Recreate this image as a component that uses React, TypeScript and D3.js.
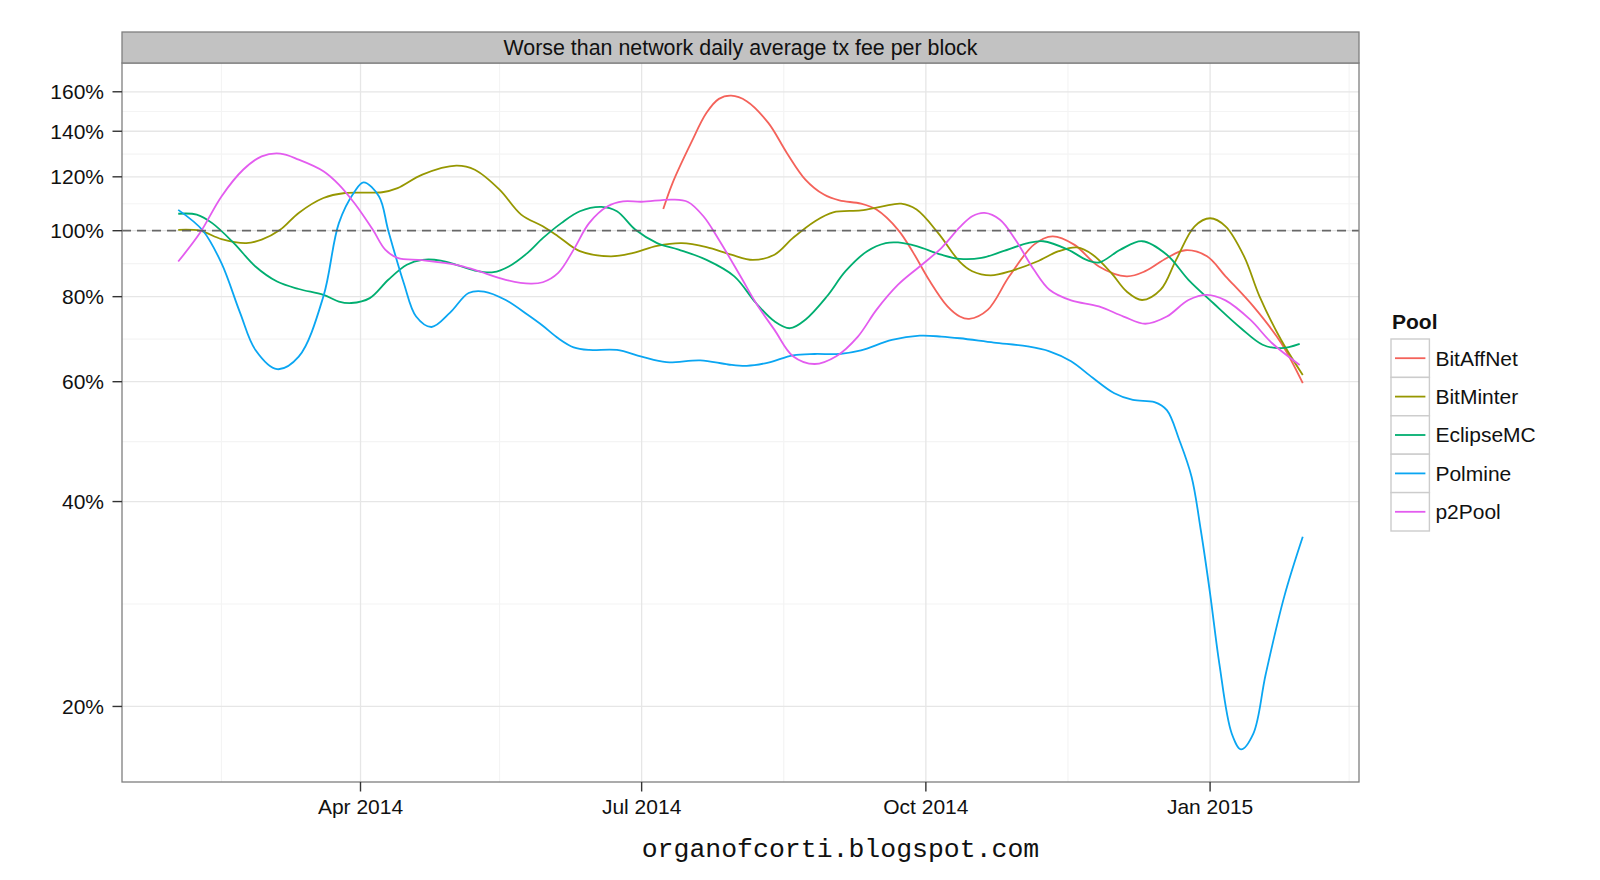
import React, { useEffect, useRef } from "react";
import * as d3 from "d3";

type Pt = [string, number];

// pools and colours (ggplot hue palette, as rendered)
const pools = ["BitAffNet", "BitMinter", "EclipseMC", "Polmine", "p2Pool"];
const poolColors = ["#F4625A", "#969700", "#00AE70", "#0AA6F2", "#E35CEF"];

// values, % of network daily average
const bitAffNet: Pt[] = [
  ["2014-07-08", 107.6], ["2014-07-11", 117.5], ["2014-07-17", 134.6], ["2014-07-22", 149.0],
  ["2014-07-26", 156.2], ["2014-07-30", 157.9], ["2014-08-04", 155.0], ["2014-08-11", 144.0],
  ["2014-08-17", 130.1], ["2014-08-23", 118.9], ["2014-08-29", 113.0], ["2014-09-03", 110.8],
  ["2014-09-10", 109.6], ["2014-09-15", 107.4], ["2014-09-22", 100.3], ["2014-09-27", 92.7],
  ["2014-10-02", 84.7], ["2014-10-08", 77.4], ["2014-10-12", 74.8], ["2014-10-15", 74.2],
  ["2014-10-21", 76.5], ["2014-10-28", 85.7], ["2014-11-05", 95.4], ["2014-11-11", 98.1],
  ["2014-11-18", 95.4], ["2014-11-26", 88.6], ["2014-12-05", 85.7], ["2014-12-11", 87.2],
  ["2014-12-18", 91.2], ["2014-12-24", 93.6], ["2014-12-31", 91.7], ["2015-01-06", 85.7],
  ["2015-01-15", 77.4], ["2015-01-24", 68.4], ["2015-01-31", 59.7],
];

const bitMinter: Pt[] = [
  ["2014-02-01", 100.3], ["2014-02-08", 100.0], ["2014-02-15", 97.2], ["2014-02-23", 95.9],
  ["2014-02-28", 97.0], ["2014-03-06", 100.3], ["2014-03-12", 106.2], ["2014-03-20", 111.7],
  ["2014-03-27", 113.6], ["2014-04-08", 113.9], ["2014-04-13", 115.5], ["2014-04-21", 120.9],
  ["2014-05-02", 124.6], ["2014-05-08", 122.9], ["2014-05-16", 114.9], ["2014-05-23", 105.6],
  ["2014-05-30", 101.5], ["2014-06-04", 98.1], ["2014-06-11", 93.3], ["2014-06-21", 91.7],
  ["2014-06-28", 92.7], ["2014-07-06", 95.0], ["2014-07-14", 95.9], ["2014-07-22", 94.6],
  ["2014-07-30", 92.2], ["2014-08-06", 90.6], ["2014-08-13", 92.2], ["2014-08-19", 97.6],
  ["2014-08-26", 103.2], ["2014-09-01", 106.4], ["2014-09-10", 107.1], ["2014-09-17", 108.6],
  ["2014-09-23", 109.6], ["2014-09-28", 107.4], ["2014-10-05", 99.2], ["2014-10-12", 90.0],
  ["2014-10-16", 87.2], ["2014-10-22", 86.0], ["2014-10-29", 87.4], ["2014-11-06", 90.1],
  ["2014-11-13", 93.3], ["2014-11-19", 94.5], ["2014-11-24", 92.2], ["2014-11-30", 86.7],
  ["2014-12-05", 81.4], ["2014-12-10", 79.1], ["2014-12-16", 81.9], ["2014-12-21", 90.6],
  ["2014-12-27", 101.5], ["2015-01-01", 104.3], ["2015-01-06", 101.5], ["2015-01-12", 91.7],
  ["2015-01-17", 80.1], ["2015-01-24", 69.1], ["2015-01-31", 61.4],
];

const eclipseMC: Pt[] = [
  ["2014-02-01", 105.9], ["2014-02-07", 105.6], ["2014-02-12", 102.6], ["2014-02-19", 95.9],
  ["2014-02-26", 88.6], ["2014-03-05", 84.2], ["2014-03-12", 82.1], ["2014-03-20", 80.5],
  ["2014-03-25", 78.7], ["2014-03-29", 78.3], ["2014-04-04", 79.6], ["2014-04-10", 84.7],
  ["2014-04-16", 89.1], ["2014-04-21", 90.6], ["2014-04-27", 90.4], ["2014-05-02", 89.1],
  ["2014-05-08", 87.4], ["2014-05-14", 86.9], ["2014-05-19", 88.6], ["2014-05-25", 92.7],
  ["2014-05-30", 97.5], ["2014-06-05", 102.6], ["2014-06-11", 106.8], ["2014-06-18", 108.4],
  ["2014-06-23", 106.8], ["2014-06-29", 100.3], ["2014-07-06", 95.9], ["2014-07-13", 93.8],
  ["2014-07-22", 90.6], ["2014-07-31", 85.7], ["2014-08-07", 78.3], ["2014-08-13", 73.6],
  ["2014-08-18", 71.9], ["2014-08-23", 74.0], ["2014-08-30", 80.1], ["2014-09-05", 87.2],
  ["2014-09-12", 93.3], ["2014-09-18", 95.9], ["2014-09-22", 96.1], ["2014-09-28", 94.9],
  ["2014-10-06", 92.2], ["2014-10-12", 90.9], ["2014-10-19", 91.2], ["2014-10-26", 93.3],
  ["2014-11-03", 95.9], ["2014-11-08", 96.5], ["2014-11-16", 93.8], ["2014-11-22", 90.6],
  ["2014-11-26", 89.8], ["2014-12-03", 93.8], ["2014-12-10", 96.5], ["2014-12-18", 92.2],
  ["2014-12-25", 84.7], ["2015-01-02", 78.3], ["2015-01-11", 71.9], ["2015-01-18", 68.0],
  ["2015-01-24", 67.2], ["2015-01-30", 68.2],
];

const polmine: Pt[] = [
  ["2014-02-01", 107.3], ["2014-02-09", 100.0], ["2014-02-15", 89.6], ["2014-02-21", 75.8],
  ["2014-02-26", 66.8], ["2014-03-05", 62.6], ["2014-03-12", 65.3], ["2014-03-20", 80.1],
  ["2014-03-25", 102.6], ["2014-03-30", 114.0], ["2014-04-02", 117.8], ["2014-04-07", 112.3],
  ["2014-04-10", 100.0], ["2014-04-15", 83.8], ["2014-04-19", 74.8], ["2014-04-24", 72.2],
  ["2014-04-30", 75.8], ["2014-05-06", 81.0], ["2014-05-11", 81.4], ["2014-05-18", 79.1],
  ["2014-05-25", 75.3], ["2014-05-30", 72.5], ["2014-06-04", 69.5], ["2014-06-09", 67.4],
  ["2014-06-14", 66.8], ["2014-06-23", 66.8], ["2014-07-01", 65.3], ["2014-07-09", 64.1],
  ["2014-07-20", 64.5], ["2014-07-29", 63.6], ["2014-08-04", 63.3], ["2014-08-11", 64.0],
  ["2014-08-19", 65.6], ["2014-08-26", 65.9], ["2014-09-03", 65.9], ["2014-09-10", 66.7],
  ["2014-09-20", 69.1], ["2014-09-29", 70.1], ["2014-10-06", 69.9], ["2014-10-12", 69.5],
  ["2014-10-23", 68.5], ["2014-11-03", 67.6], ["2014-11-10", 66.5], ["2014-11-17", 64.3],
  ["2014-11-24", 60.8], ["2014-12-01", 57.7], ["2014-12-07", 56.4], ["2014-12-14", 56.0],
  ["2014-12-18", 54.5], ["2014-12-22", 49.3], ["2014-12-26", 43.5], ["2014-12-29", 36.3],
  ["2015-01-01", 29.3], ["2015-01-04", 23.1], ["2015-01-08", 18.25], ["2015-01-11", 17.3],
  ["2015-01-15", 18.25], ["2015-01-19", 22.3], ["2015-01-25", 29.0], ["2015-01-31", 35.5],
];

const p2Pool: Pt[] = [
  ["2014-02-01", 90.1], ["2014-02-08", 99.2], ["2014-02-15", 112.3], ["2014-02-22", 122.9],
  ["2014-02-28", 128.6], ["2014-03-06", 129.8], ["2014-03-12", 127.2], ["2014-03-20", 122.3],
  ["2014-03-25", 116.9], ["2014-03-30", 109.8], ["2014-04-05", 100.3], ["2014-04-09", 93.8],
  ["2014-04-13", 91.2], ["2014-04-21", 90.5], ["2014-05-02", 89.1], ["2014-05-08", 87.6],
  ["2014-05-18", 84.7], ["2014-05-26", 83.6], ["2014-05-30", 84.0], ["2014-06-04", 86.7],
  ["2014-06-09", 93.8], ["2014-06-14", 102.6], ["2014-06-20", 108.6], ["2014-06-25", 110.4],
  ["2014-07-01", 110.3], ["2014-07-11", 111.1], ["2014-07-16", 110.2], ["2014-07-21", 105.0],
  ["2014-07-26", 97.0], ["2014-08-02", 85.7], ["2014-08-07", 78.3], ["2014-08-13", 71.5],
  ["2014-08-19", 65.4], ["2014-08-26", 63.7], ["2014-09-02", 65.4], ["2014-09-09", 69.9],
  ["2014-09-15", 76.5], ["2014-09-22", 83.3], ["2014-09-29", 88.6], ["2014-10-06", 94.3],
  ["2014-10-12", 101.2], ["2014-10-16", 105.0], ["2014-10-20", 106.2], ["2014-10-25", 103.8],
  ["2014-10-30", 97.0], ["2014-11-05", 87.6], ["2014-11-10", 81.9], ["2014-11-17", 79.0],
  ["2014-11-26", 77.4], ["2014-12-04", 74.8], ["2014-12-11", 73.0], ["2014-12-18", 74.8],
  ["2014-12-25", 79.1], ["2014-12-31", 80.5], ["2015-01-06", 79.0], ["2015-01-14", 74.0],
  ["2015-01-21", 68.4], ["2015-01-30", 63.5],
];

const seriesData = [bitAffNet, bitMinter, eclipseMC, polmine, p2Pool];

// axes
const yTicks = [20, 40, 60, 80, 100, 120, 140, 160];
const xTickDates = ["2014-04-01", "2014-07-01", "2014-10-01", "2015-01-01"];
const xTickLabels = ["Apr 2014", "Jul 2014", "Oct 2014", "Jan 2015"];
const xMinorDates = ["2014-02-15", "2014-05-16", "2014-08-16", "2014-11-16", "2015-02-15"];
const referenceLevel = 100;

const stripTitle = "Worse than network daily average tx fee per block";
const legendTitle = "Pool";
const footer = "organofcorti.blogspot.com";

const W = 1600;
const H = 880;
const panel = { left: 122, right: 1359, top: 63, bottom: 782 };
const stripTop = 32;
const font = "'Liberation Sans', Arial, Helvetica, sans-serif";

export default function App() {
  const svgRef = useRef<SVGSVGElement>(null);

  useEffect(() => {
    const svg = d3.select(svgRef.current);
    svg.selectAll("*").remove();

    const all = seriesData.flat();
    const dates = all.map((d) => new Date(d[0]).getTime());
    const vals = all.map((d) => Math.log10(d[1]));

    // ggplot style 5% expansion (log space for y)
    const [t0, t1] = d3.extent(dates) as [number, number];
    const [l0, l1] = d3.extent(vals) as [number, number];
    const tPad = (t1 - t0) * 0.05;
    const lPad = (l1 - l0) * 0.05;

    const x = d3
      .scaleUtc()
      .domain([new Date(t0 - tPad), new Date(t1 + tPad)])
      .range([panel.left, panel.right]);
    const y = d3
      .scaleLog()
      .domain([Math.pow(10, l0 - lPad), Math.pow(10, l1 + lPad)])
      .range([panel.bottom, panel.top]);

    svg.append("rect").attr("width", W).attr("height", H).attr("fill", "#fff");

    // minor grid
    const yMinor = yTicks.slice(1).map((v, i) => Math.sqrt(v * yTicks[i]));
    const g = svg.append("g");
    g.selectAll(".ymin")
      .data(yMinor)
      .enter()
      .append("line")
      .attr("x1", panel.left)
      .attr("x2", panel.right)
      .attr("y1", (d) => y(d))
      .attr("y2", (d) => y(d))
      .attr("stroke", "#F4F4F4")
      .attr("stroke-width", 1.2);
    g.selectAll(".xmin")
      .data(xMinorDates)
      .enter()
      .append("line")
      .attr("x1", (d) => x(new Date(d)))
      .attr("x2", (d) => x(new Date(d)))
      .attr("y1", panel.top)
      .attr("y2", panel.bottom)
      .attr("stroke", "#F4F4F4")
      .attr("stroke-width", 1.2);

    // major grid
    g.selectAll(".ymaj")
      .data(yTicks)
      .enter()
      .append("line")
      .attr("x1", panel.left)
      .attr("x2", panel.right)
      .attr("y1", (d) => y(d))
      .attr("y2", (d) => y(d))
      .attr("stroke", "#E6E6E6")
      .attr("stroke-width", 1.3);
    g.selectAll(".xmaj")
      .data(xTickDates)
      .enter()
      .append("line")
      .attr("x1", (d) => x(new Date(d)))
      .attr("x2", (d) => x(new Date(d)))
      .attr("y1", panel.top)
      .attr("y2", panel.bottom)
      .attr("stroke", "#E6E6E6")
      .attr("stroke-width", 1.3);

    // series
    const line = d3
      .line<Pt>()
      .x((d) => x(new Date(d[0])))
      .y((d) => y(d[1]))
      .curve(d3.curveCatmullRom.alpha(0.5));

    svg
      .append("g")
      .selectAll("path")
      .data(seriesData)
      .enter()
      .append("path")
      .attr("d", (d) => line(d))
      .attr("fill", "none")
      .attr("stroke", (d, i) => poolColors[i])
      .attr("stroke-width", 1.8)
      .attr("stroke-linejoin", "round");

    // 100% reference line
    svg
      .append("line")
      .attr("x1", panel.left)
      .attr("x2", panel.right)
      .attr("y1", y(referenceLevel))
      .attr("y2", y(referenceLevel))
      .attr("stroke", "#5a5a5a")
      .attr("stroke-width", 1.8)
      .attr("stroke-dasharray", "9,6")
      .attr("opacity", 0.9);

    // panel border
    svg
      .append("rect")
      .attr("x", panel.left)
      .attr("y", panel.top)
      .attr("width", panel.right - panel.left)
      .attr("height", panel.bottom - panel.top)
      .attr("fill", "none")
      .attr("stroke", "#7f7f7f")
      .attr("stroke-width", 1.3);

    // strip
    svg
      .append("rect")
      .attr("x", panel.left)
      .attr("y", stripTop)
      .attr("width", panel.right - panel.left)
      .attr("height", panel.top - stripTop)
      .attr("fill", "#C2C2C2")
      .attr("stroke", "#7f7f7f")
      .attr("stroke-width", 1.3);
    svg
      .append("text")
      .attr("x", (panel.left + panel.right) / 2)
      .attr("y", (stripTop + panel.top) / 2 + 7.5)
      .attr("text-anchor", "middle")
      .attr("font-family", font)
      .attr("font-size", 21.4)
      .attr("fill", "#111")
      .text(stripTitle);

    // y axis
    const ya = svg.append("g");
    ya.selectAll("line")
      .data(yTicks)
      .enter()
      .append("line")
      .attr("x1", panel.left - 9.5)
      .attr("x2", panel.left)
      .attr("y1", (d) => y(d))
      .attr("y2", (d) => y(d))
      .attr("stroke", "#333")
      .attr("stroke-width", 1.4);
    ya.selectAll("text")
      .data(yTicks)
      .enter()
      .append("text")
      .attr("x", panel.left - 18)
      .attr("y", (d) => y(d) + 7.5)
      .attr("text-anchor", "end")
      .attr("font-family", font)
      .attr("font-size", 21)
      .attr("fill", "#111")
      .text((d) => d + "%");

    // x axis
    const xa = svg.append("g");
    xa.selectAll("line")
      .data(xTickDates)
      .enter()
      .append("line")
      .attr("x1", (d) => x(new Date(d)))
      .attr("x2", (d) => x(new Date(d)))
      .attr("y1", panel.bottom)
      .attr("y2", panel.bottom + 9.5)
      .attr("stroke", "#333")
      .attr("stroke-width", 1.4);
    xa.selectAll("text")
      .data(xTickDates)
      .enter()
      .append("text")
      .attr("x", (d) => x(new Date(d)))
      .attr("y", panel.bottom + 32)
      .attr("text-anchor", "middle")
      .attr("font-family", font)
      .attr("font-size", 21)
      .attr("fill", "#111")
      .text((d, i) => xTickLabels[i]);

    // legend
    const lx = 1391;
    const ly = 339;
    const key = 38.4;
    const lg = svg.append("g");
    lg.append("text")
      .attr("x", lx + 1)
      .attr("y", ly - 10)
      .attr("font-family", font)
      .attr("font-size", 21)
      .attr("font-weight", "bold")
      .attr("fill", "#111")
      .text(legendTitle);
    const items = lg
      .selectAll("g")
      .data(pools)
      .enter()
      .append("g")
      .attr("transform", (d, i) => `translate(${lx},${ly + i * key})`);
    items
      .append("rect")
      .attr("width", key)
      .attr("height", key)
      .attr("fill", "#fff")
      .attr("stroke", "#CCCCCC")
      .attr("stroke-width", 1.4);
    items
      .append("line")
      .attr("x1", 4)
      .attr("x2", key - 4)
      .attr("y1", key / 2)
      .attr("y2", key / 2)
      .attr("stroke", (d, i) => poolColors[i])
      .attr("stroke-width", 1.8);
    items
      .append("text")
      .attr("x", key + 6)
      .attr("y", key / 2 + 7.5)
      .attr("font-family", font)
      .attr("font-size", 21)
      .attr("fill", "#111")
      .text((d) => d);

    // footer
    svg
      .append("text")
      .attr("x", (panel.left + panel.right) / 2 + 100)
      .attr("y", 857)
      .attr("text-anchor", "middle")
      .attr("font-family", "'Liberation Mono', 'Courier New', Courier, monospace")
      .attr("font-size", 26.5)
      .attr("fill", "#111")
      .text(footer);
  }, []);

  return (
    <svg
      ref={svgRef}
      width={W}
      height={H}
      style={{ position: "absolute", left: 0, top: 0 }}
    />
  );
}
